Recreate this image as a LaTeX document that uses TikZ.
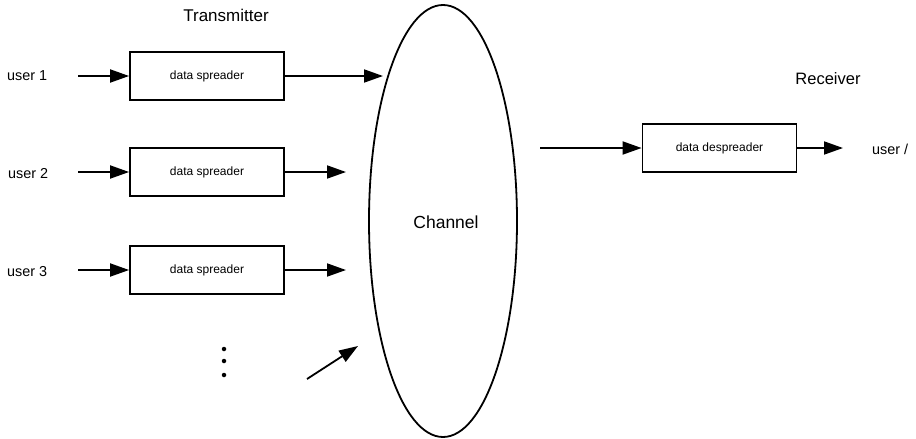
\documentclass[tikz,border=0pt]{standalone}
\usepackage{fontspec}
\setmainfont{Liberation Sans}
\usetikzlibrary{arrows.meta,shapes.geometric}
\tikzset{
  blk/.style={draw, line width=1.8pt, minimum width=154pt, minimum height=48pt, inner sep=0pt, font=\fontsize{12}{14}\selectfont},
  lbl/.style={inner sep=0pt, font=\fontsize{14.4}{16}\selectfont},
  title/.style={inner sep=0pt, font=\fontsize{17}{19}\selectfont},
  arr/.style={line width=1.8pt, -{Triangle[length=19pt,width=13pt]}},
  dotm/.style={circle, fill, inner sep=0pt, minimum size=4.5pt}
}
\begin{document}
\begin{tikzpicture}[x=1pt,y=-1pt]
\useasboundingbox (0,0) rectangle (916,439);
% channel
\node[ellipse, draw, line width=1.8pt, minimum width=148pt, minimum height=432pt, inner sep=0pt] (ch) at (443,221) {};
\node[title, font=\fontsize{17.5}{19}\selectfont] (chl) at (446,222) {Channel};
% titles
\node[title] (tx) at (226,15) {Transmitter};
\node[title, font=\fontsize{16.5}{18}\selectfont] (rx) at (828,79) {Receiver};
% users
\node[lbl, anchor=west] (u1) at (7,76) {user 1};
\node[lbl, anchor=west] (u2) at (8,174) {user 2};
\node[lbl, anchor=west] (u3) at (7,272) {user 3};
% boxes
\node[blk] (b1) at (207,76) {data spreader};
\node[blk] (b2) at (207,172) {data spreader};
\node[blk] (b3) at (207,270) {data spreader};
\node[blk] (b4) at (719.5,148) {data despreader};
\node[lbl, anchor=west] (uo) at (872,149) {user /};
% coordinates
\coordinate (i1) at (78,76);
\coordinate (i2) at (78,172);
\coordinate (i3) at (78,270);
\coordinate (o1) at (383,76);
\coordinate (o2) at (346,172);
\coordinate (o3) at (346,270);
\coordinate (ds) at (307,379);
\coordinate (de) at (358,346);
\coordinate (ri) at (540,148);
\coordinate (ro) at (843,148);
% arrows
\draw[arr] (i1) -- (b1.west);
\draw[arr] (i2) -- (b2.west);
\draw[arr] (i3) -- (b3.west);
\draw[arr] (b1.east) -- (o1);
\draw[arr] (b2.east) -- (o2);
\draw[arr] (b3.east) -- (o3);
\draw[arr] (ds) -- (de);
\draw[arr] (ri) -- (b4.west);
\draw[arr] (b4.east) -- (ro);
% dots
\node[dotm] (d1) at (224,349) {};
\node[dotm] (d2) at (224,361) {};
\node[dotm] (d3) at (224,375) {};
\end{tikzpicture}
\end{document}
